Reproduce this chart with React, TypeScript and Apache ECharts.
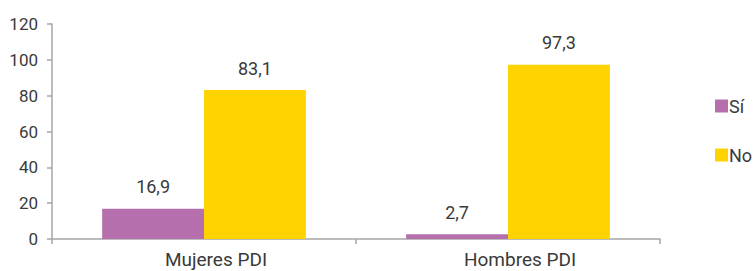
import React, { useEffect, useRef } from "react";
import * as echarts from "echarts";

const categories = ["Mujeres PDI", "Hombres PDI"];
const siValues = [16.9, 2.7];
const noValues = [83.1, 97.3];
const seriesNames = ["Sí", "No"];

const FONT = "Roboto, 'Liberation Sans', sans-serif";
const TEXT = "#3a3a3a";

export default function App() {
  const ref = useRef<HTMLDivElement>(null);
  useEffect(() => {
    if (!ref.current) return;
    const chart = echarts.init(ref.current, undefined, { renderer: "svg" });
    const fmt = (p: any) => String(p.value).replace(".", ",");
    const lbl = { show: true, position: "top", distance: 13, color: TEXT, fontSize: 18, fontFamily: FONT, formatter: fmt };
    chart.setOption({
      animation: false,
      textStyle: { fontFamily: FONT },
      grid: { left: 52, right: 95, top: 24, bottom: 32, containLabel: false },
      legend: {
        orient: "vertical",
        left: 710,
        top: 92,
        itemWidth: 13,
        itemHeight: 13,
        itemGap: 31,
        icon: "rect",
        textStyle: { fontSize: 18, color: TEXT, fontFamily: FONT, padding: [0, 0, 0, -4] },
        data: seriesNames,
      },
      xAxis: {
        type: "category",
        data: categories,
        axisLine: { lineStyle: { color: "#a6a6a6", width: 1.5 } },
        axisTick: { show: true, length: 5, lineStyle: { color: "#a6a6a6", width: 1.5 } },
        axisLabel: { color: TEXT, fontSize: 19, margin: 10, lineHeight: 20, fontFamily: FONT, padding: [0, 0, 0, 24] },
      },
      yAxis: {
        type: "value",
        min: 0,
        max: 120,
        interval: 20,
        splitLine: { show: false },
        axisLine: { show: true, lineStyle: { color: "#a6a6a6", width: 1.5 } },
        axisTick: { show: true, length: 5, lineStyle: { color: "#a6a6a6", width: 1.5 } },
        axisLabel: { color: TEXT, fontSize: 17, margin: 14, fontFamily: FONT },
      },
      series: [
        {
          name: seriesNames[0],
          type: "bar",
          data: siValues,
          barCategoryGap: "33%",
          barGap: "0%",
          itemStyle: { color: "#B46FAC" },
          label: lbl,
        },
        {
          name: seriesNames[1],
          type: "bar",
          data: noValues,
          barCategoryGap: "33%",
          barGap: "0%",
          itemStyle: { color: "#FFD200" },
          label: lbl,
        },
      ],
    });
    return () => chart.dispose();
  }, []);
  return <div ref={ref} style={{ width: 755, height: 271, position: "absolute", left: 0, top: 0 }} />;
}
